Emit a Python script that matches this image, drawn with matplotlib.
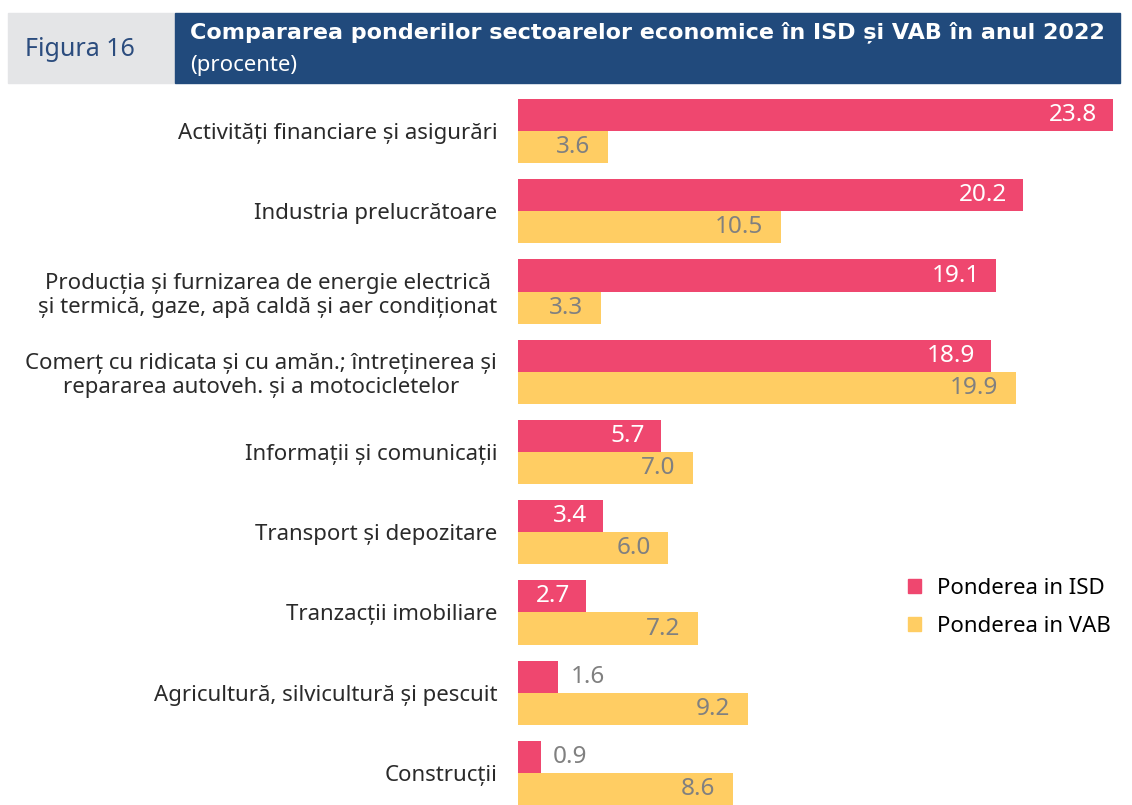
import matplotlib.pyplot as plt
from matplotlib.patches import Patch, Rectangle

plt.rcParams["font.family"] = ["Noto Sans", "DejaVu Sans"]

categories = [
    "Activități financiare și asigurări",
    "Industria prelucrătoare",
    "Producția și furnizarea de energie electrică\nși termică, gaze, apă caldă și aer condiționat",
    "Comerț cu ridicata și cu amăn.; întreținerea și\nrepararea autoveh. și a motocicletelor",
    "Informații și comunicații",
    "Transport și depozitare",
    "Tranzacții imobiliare",
    "Agricultură, silvicultură și pescuit",
    "Construcții",
]
isd = [23.8, 20.2, 19.1, 18.9, 5.7, 3.4, 2.7, 1.6, 0.9]
vab = [3.6, 10.5, 3.3, 19.9, 7.0, 6.0, 7.2, 9.2, 8.6]

pink = "#EF476F"
yellow = "#FFCD63"
grey_txt = "#808080"

fig = plt.figure(figsize=(11.32, 8.05), dpi=100)

# header boxes
fig.patches.append(Rectangle((8 / 1132, 1 - 83 / 805), 167 / 1132, 70 / 805,
                             transform=fig.transFigure, color="#E4E5E7", zorder=0))
fig.patches.append(Rectangle((175 / 1132, 1 - 83 / 805), 945 / 1132, 70 / 805,
                             transform=fig.transFigure, color="#214A7C", zorder=0))
fig.text(25 / 1132, 1 - 49 / 805, "Figura 16", fontsize=18, color="#2B4C7E",
         va="center", ha="left")
fig.text(190 / 1132, 1 - 32 / 805,
         "Compararea ponderilor sectoarelor economice în ISD și VAB în anul 2022",
         fontsize=16, fontweight="bold", color="white", va="center", ha="left",
         family=["DejaVu Sans"])
fig.text(190 / 1132, 1 - 66 / 805, "(procente)", fontsize=16, color="white",
         va="center", ha="left")

ax = fig.add_axes([518 / 1132, 0, 612 / 1132, 1 - 83 / 805])
y = list(range(len(categories)))
h = 0.4
ax.barh([i - h / 2 for i in y], isd, height=h, color=pink)
ax.barh([i + h / 2 for i in y], vab, height=h, color=yellow)
ax.set_xlim(0, 24.48)
ax.set_ylim(8.4, -0.6)

for i, v in enumerate(isd):
    if v >= 2.5:
        ax.text(v - 0.62, i - h / 2, f"{v:.1f}", color="white", fontsize=17.5,
                ha="right", va="center")
    else:
        ax.text(v + 0.5, i - h / 2, f"{v:.1f}", color=grey_txt, fontsize=17.5,
                ha="left", va="center")
for i, v in enumerate(vab):
    ax.text(v - 0.7, i + h / 2, f"{v:.1f}", color=grey_txt, fontsize=17.5,
            ha="right", va="center")

ax.set_yticks(y)
ax.set_yticklabels(categories, fontsize=16, color="#2A2A2A", ha="right",
                   multialignment="center")
ax.tick_params(axis="y", length=0, pad=15)
ax.set_xticks([])
for s in ax.spines.values():
    s.set_visible(False)

handles = [Patch(color=pink), Patch(color=yellow)]
fig.legend(handles, ["Ponderea in ISD", "Ponderea in VAB"], loc="upper left",
           bbox_to_anchor=(888 / 1132, 1 - 558 / 805), frameon=False,
           fontsize=16, handlelength=0.6, handleheight=0.6, labelspacing=0.75,
           handletextpad=0.7)

fig.savefig("out.png", dpi=100)
